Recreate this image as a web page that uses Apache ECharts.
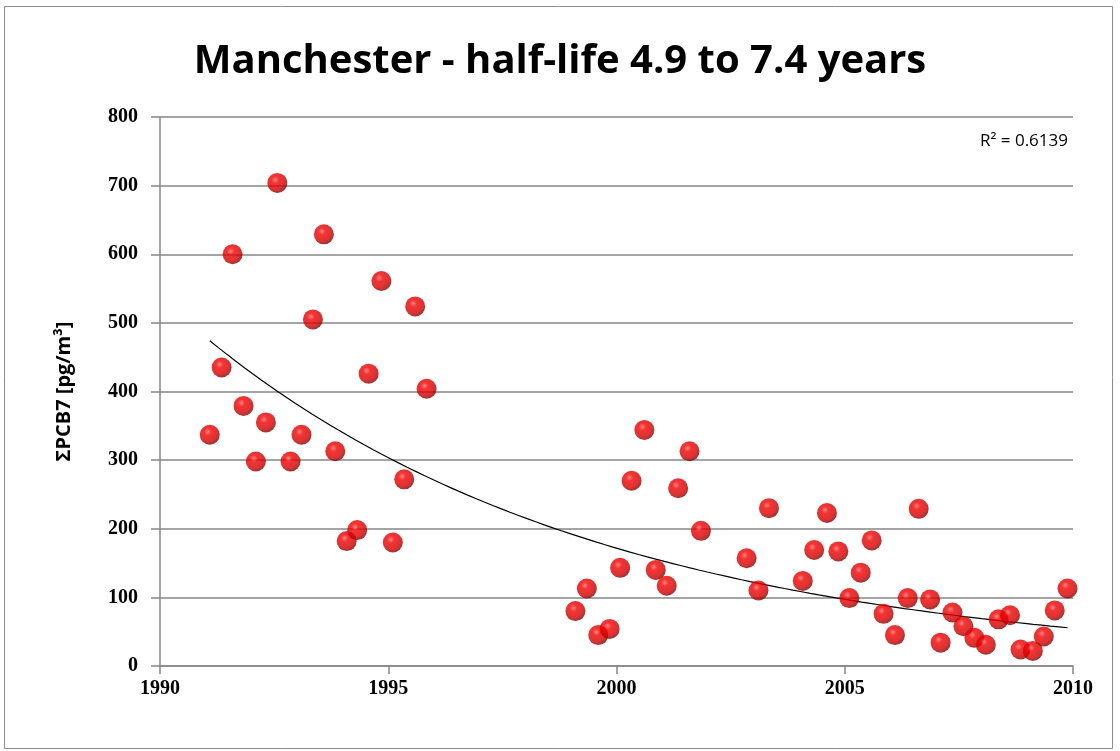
<!DOCTYPE html>
<html><head><meta charset="utf-8">
<script src="https://cdn.jsdelivr.net/npm/echarts@6/dist/echarts.min.js"></script>
<style>html,body{margin:0;padding:0;background:#fff}#c{width:1120px;height:751px}</style>
</head><body><div id="c"></div>
<script>
const titleText = 'Manchester - half-life 4.9 to 7.4 years';
const yAxisName = 'ΣPCB7 [pg/m³]';
const r2Text = 'R² = 0.6139';
const years = [1991.09,1991.35,1991.59,1991.83,1992.10,1992.32,1992.57,1992.86,1993.10,1993.35,1993.59,1993.84,1994.09,1994.32,1994.57,1994.85,1995.10,1995.35,1995.59,1995.84,
  1999.10,1999.35,1999.60,1999.85,2000.08,2000.33,2000.61,2000.86,2001.10,2001.35,2001.60,2001.85,2002.85,2003.11,2003.34,2004.08,2004.33,2004.61,2004.86,
  2005.10,2005.35,2005.59,2005.85,2006.10,2006.38,2006.62,2006.87,2007.10,2007.36,2007.60,2007.84,2008.09,2008.37,2008.62,2008.85,2009.12,2009.36,2009.60,2009.88];
const values = [337,435,600,379,298,355,704,298,337,505,629,313,182,198,426,561,180,272,524,404,
  80,113,45,54,143,270,344,140,117,259,313,197,157,110,230,124,169,223,167,
  99,136,183,76,45,99,229,97,34,78,58,41,31,68,74,24,22,43,81,113];
const xMin = 1990, xMax = 2010, xStep = 5;
const yMin = 0, yMax = 800, yStep = 100;

// Exponential trendline (least squares on ln(y)), as Excel does
const n = years.length;
let sx=0, sy=0, sxx=0, sxy=0;
for (let i=0;i<n;i++){ const X=years[i]-xMin, Y=Math.log(values[i]); sx+=X; sy+=Y; sxx+=X*X; sxy+=X*Y; }
const slope = (n*sxy - sx*sy)/(n*sxx - sx*sx);
const icpt = (sy - slope*sx)/n;
const x0 = years[0], x1 = years[n-1];
const trend = [];
for (let k=0;k<=100;k++){ const X = x0 + (x1-x0)*k/100; trend.push([X, Math.exp(icpt + slope*(X-xMin))]); }

const points = years.map((y,i)=>[y, values[i]]);

const chart = echarts.init(document.getElementById('c'), null, {renderer:'canvas'});
const sphere = {
  type:'radial', x:0.4, y:0.35, r:0.7,
  colorStops:[{offset:0,color:'#ff6a6a'},{offset:0.25,color:'#f40000'},{offset:0.7,color:'#d00000'},{offset:1,color:'#760000'}]
};
chart.setOption({
  animation:false,
  backgroundColor:'#ffffff',
  title:{ text:titleText, left:'center', top:37,
    textStyle:{ fontFamily:'Open Sans', fontWeight:'bold', fontSize:40, color:'#000' } },
  grid:{ left:160, right:47, top:117, bottom:85 },
  graphic:[
    { type:'rect', shape:{x:4.5,y:6.5,width:1108,height:742}, style:{fill:null, stroke:'#8c8c8c', lineWidth:1}, silent:true, z:-1 },
    { type:'text', right:52, top:133, style:{ text:r2Text, fontFamily:'Open Sans', fontSize:17, fill:'#000' } }
  ],
  xAxis:{ type:'value', min:xMin, max:xMax, interval:xStep,
    axisLine:{ show:true, onZero:false, lineStyle:{color:'#868686', width:1.5} },
    axisTick:{ show:true, inside:false, length:8, lineStyle:{color:'#868686', width:1.5} },
    splitLine:{ show:false },
    axisLabel:{ margin:13, fontFamily:'Liberation Serif', fontWeight:'bold', fontSize:20, color:'#000', formatter:v=>String(v) } },
  yAxis:{ type:'value', min:yMin, max:yMax, interval:yStep,
    name:yAxisName, nameLocation:'middle', nameGap:86, nameRotate:90,
    nameTextStyle:{ fontFamily:'Open Sans', fontWeight:'bold', fontSize:20, color:'#000' },
    axisLine:{ show:true, lineStyle:{color:'#868686', width:1.5} },
    axisTick:{ show:true, inside:false, length:9, lineStyle:{color:'#868686', width:1.5} },
    splitLine:{ show:true, lineStyle:{color:'#868686', width:1.5} },
    axisLabel:{ margin:22, fontFamily:'Liberation Serif', fontWeight:'bold', fontSize:20, color:'#000' } },
  series:[
    { type:'line', data:trend, showSymbol:false, symbol:'none', smooth:false,
      lineStyle:{ color:'#000', width:1.2 }, z:3, silent:true },
    { type:'scatter', data:points, symbol:'circle', symbolSize:20,
      itemStyle:{ color:sphere }, z:4 }
  ]
});
</script></body></html>
